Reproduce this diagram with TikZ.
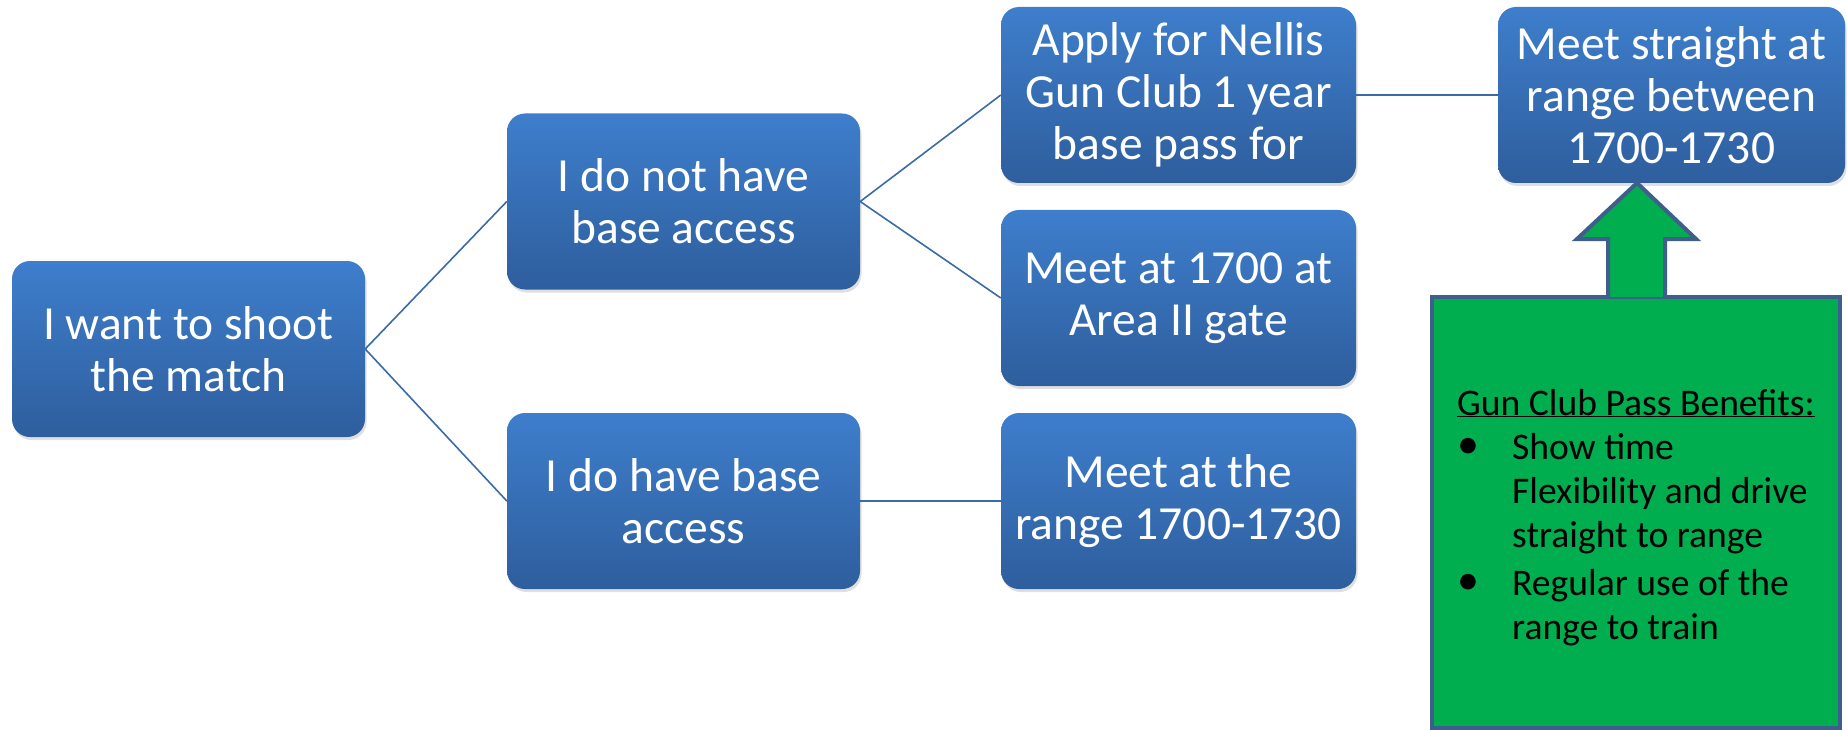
\documentclass[tikz,border=0pt]{standalone}
\usepackage{fontspec}
\setmainfont{Carlito}
\usetikzlibrary{shadows}
\definecolor{boxtop}{RGB}{62,126,204}
\definecolor{boxbot}{RGB}{46,94,157}
\definecolor{linkc}{RGB}{58,106,168}
\definecolor{greenfill}{RGB}{0,174,80}
\definecolor{greenedge}{RGB}{62,95,140}
\tikzset{
  bluebox/.style={rounded corners=18pt, top color=boxtop, bottom color=boxbot, draw=none,
    text=white, align=center, inner sep=0pt, minimum height=176pt,
    font=\fontsize{47.5}{52}\selectfont,
    drop shadow={opacity=0.25, shadow xshift=1.5pt, shadow yshift=-3pt}},
  link/.style={draw=linkc, line width=1.6pt},
  greenshape/.style={fill=greenfill, draw=greenedge, line width=4pt, line join=miter}
}
\begin{document}
\begin{tikzpicture}[x=1pt, y=-1pt]
\useasboundingbox (0,0) rectangle (1847,730);
\node[bluebox, minimum width=353pt] (n1) at (188.5,349) {I want to shoot\\the match};
\node[bluebox, minimum width=353pt] (n2) at (683.5,201.5) {I do not have\\base access};
\node[bluebox, minimum width=353pt] (n3) at (683.5,501) {I do have base\\access};
\node[bluebox, minimum width=355pt] (n4) at (1178.5,95) {Apply for Nellis\\Gun Club 1 year\\base pass for};
\node[bluebox, minimum width=355pt] (n5) at (1178.5,298) {Meet at 1700 at\\Area II gate};
\node[bluebox, minimum width=355pt] (n6) at (1178.5,501) {Meet at the\\range 1700-1730};
\node[bluebox, minimum width=347pt] (n7) at (1671.5,95) {Meet straight at\\range between\\1700-1730};

\draw[link] (n1.east) -- (n2.west);
\draw[link] (n1.east) -- (n3.west);
\draw[link] (n2.east) -- (n4.west);
\draw[link] (n2.east) -- (n5.west);
\draw[link] (n3.east) -- (n6.west);
\draw[link] (n4.east) -- (n7.west);

% green benefits box
\draw[greenshape] (1432,297) rectangle (1840,728);
\coordinate (tip) at (1637,183);
\draw[greenshape] (1608,297) -- (1608,239) -- (1577,239) -- (tip) -- (1696,239) -- (1665,239) -- (1665,297);
\node[anchor=north west, inner sep=0pt, font=\fontsize{37.6}{44}\selectfont, text=black] (txt) at (1457,384) {%
\begin{tabular}{@{}p{55pt}@{}l@{}}
\multicolumn{2}{@{}c@{}}{\underline{Gun Club Pass Benefits:}}\\
\raisebox{1pt}{\fontsize{44}{44}\selectfont\textbullet} & Show time\\
 & Flexibility and drive\\
 & straight to range\\[4pt]
\raisebox{1pt}{\fontsize{44}{44}\selectfont\textbullet} & Regular use of the\\
 & range to train
\end{tabular}};
\end{tikzpicture}
\end{document}
